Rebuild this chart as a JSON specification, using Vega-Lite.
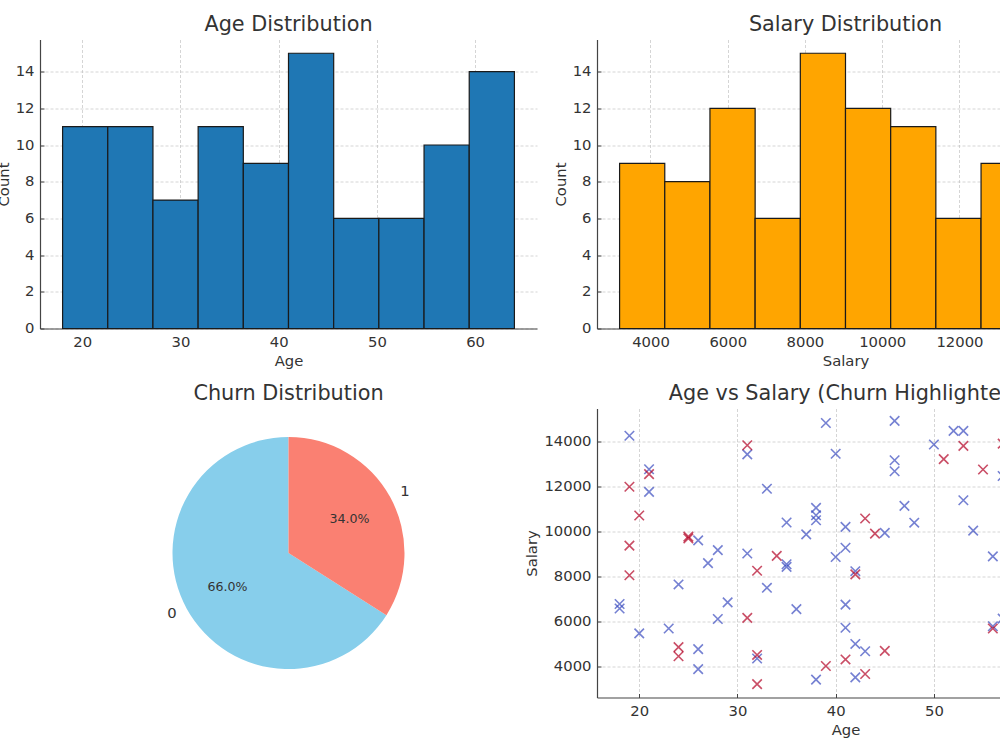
{
  "$schema": "https://vega.github.io/schema/vega-lite/v6.json",
  "padding": {"left": -4, "top": 13.5, "right": 0, "bottom": 0},
  "background": "white",
  "config": {
    "font": "DejaVu Sans",
    "view": {"stroke": null},
    "title": {"fontSize": 20.8, "font": "DejaVu Sans", "fontWeight": "normal", "color": "#333333", "anchor": "middle", "frame": "group", "offset": 3.5, "baseline": "alphabetic"},
    "axis": {
      "domainColor": "#444444", "domainWidth": 1.2,
      "tickColor": "#444444", "tickSize": -4, "tickWidth": 1,
      "labelFont": "DejaVu Sans", "labelFontSize": 14.8, "labelColor": "#333333", "labelPadding": 10,
      "titleFont": "DejaVu Sans", "titleFontSize": 14.8, "titleFontWeight": "normal", "titleColor": "#333333", "titlePadding": 4,
      "gridColor": "#bdbdbd", "gridDash": [3, 2], "gridWidth": 0.8, "gridOpacity": 0.8,
      "zindex": 1
    }
  },
  "datasets": {
    "age_hist": [
      {"bin_start": 18, "bin_end": 22.6, "count": 11},
      {"bin_start": 22.6, "bin_end": 27.2, "count": 11},
      {"bin_start": 27.2, "bin_end": 31.8, "count": 7},
      {"bin_start": 31.8, "bin_end": 36.4, "count": 11},
      {"bin_start": 36.4, "bin_end": 41, "count": 9},
      {"bin_start": 41, "bin_end": 45.6, "count": 15},
      {"bin_start": 45.6, "bin_end": 50.2, "count": 6},
      {"bin_start": 50.2, "bin_end": 54.8, "count": 6},
      {"bin_start": 54.8, "bin_end": 59.4, "count": 10},
      {"bin_start": 59.4, "bin_end": 64, "count": 14}
    ],
    "salary_hist": [
      {"bin_start": 3200, "bin_end": 4370, "count": 9},
      {"bin_start": 4370, "bin_end": 5540, "count": 8},
      {"bin_start": 5540, "bin_end": 6710, "count": 12},
      {"bin_start": 6710, "bin_end": 7880, "count": 6},
      {"bin_start": 7880, "bin_end": 9050, "count": 15},
      {"bin_start": 9050, "bin_end": 10220, "count": 12},
      {"bin_start": 10220, "bin_end": 11390, "count": 11},
      {"bin_start": 11390, "bin_end": 12560, "count": 6},
      {"bin_start": 12560, "bin_end": 13730, "count": 9},
      {"bin_start": 13730, "bin_end": 14900, "count": 12}
    ],
    "churn": [
      {"churn": "0", "share": 0.66},
      {"churn": "1", "share": 0.34}
    ],
    "people": [
      {"age": 19, "salary": 14270, "churn": "0"},
      {"age": 21, "salary": 12780, "churn": "0"},
      {"age": 21, "salary": 11770, "churn": "0"},
      {"age": 18, "salary": 6780, "churn": "0"},
      {"age": 18, "salary": 6580, "churn": "0"},
      {"age": 20, "salary": 5470, "churn": "0"},
      {"age": 23, "salary": 5690, "churn": "0"},
      {"age": 24, "salary": 7650, "churn": "0"},
      {"age": 26, "salary": 9610, "churn": "0"},
      {"age": 26, "salary": 4770, "churn": "0"},
      {"age": 26, "salary": 3880, "churn": "0"},
      {"age": 27, "salary": 8600, "churn": "0"},
      {"age": 28, "salary": 9180, "churn": "0"},
      {"age": 28, "salary": 6110, "churn": "0"},
      {"age": 29, "salary": 6850, "churn": "0"},
      {"age": 31, "salary": 13440, "churn": "0"},
      {"age": 31, "salary": 9030, "churn": "0"},
      {"age": 32, "salary": 4350, "churn": "0"},
      {"age": 33, "salary": 11910, "churn": "0"},
      {"age": 33, "salary": 7500, "churn": "0"},
      {"age": 35, "salary": 10410, "churn": "0"},
      {"age": 35, "salary": 8550, "churn": "0"},
      {"age": 35, "salary": 8430, "churn": "0"},
      {"age": 36, "salary": 6550, "churn": "0"},
      {"age": 37, "salary": 9880, "churn": "0"},
      {"age": 38, "salary": 11060, "churn": "0"},
      {"age": 38, "salary": 10730, "churn": "0"},
      {"age": 38, "salary": 10510, "churn": "0"},
      {"age": 38, "salary": 3410, "churn": "0"},
      {"age": 39, "salary": 14840, "churn": "0"},
      {"age": 40, "salary": 13470, "churn": "0"},
      {"age": 40, "salary": 8870, "churn": "0"},
      {"age": 41, "salary": 10215, "churn": "0"},
      {"age": 41, "salary": 9285, "churn": "0"},
      {"age": 41, "salary": 6750, "churn": "0"},
      {"age": 41, "salary": 5720, "churn": "0"},
      {"age": 42, "salary": 8240, "churn": "0"},
      {"age": 42, "salary": 5000, "churn": "0"},
      {"age": 42, "salary": 3510, "churn": "0"},
      {"age": 43, "salary": 4675, "churn": "0"},
      {"age": 45, "salary": 9945, "churn": "0"},
      {"age": 46, "salary": 14935, "churn": "0"},
      {"age": 46, "salary": 13180, "churn": "0"},
      {"age": 46, "salary": 12690, "churn": "0"},
      {"age": 47, "salary": 11150, "churn": "0"},
      {"age": 48, "salary": 10400, "churn": "0"},
      {"age": 50, "salary": 13880, "churn": "0"},
      {"age": 52, "salary": 14490, "churn": "0"},
      {"age": 53, "salary": 14490, "churn": "0"},
      {"age": 53, "salary": 11400, "churn": "0"},
      {"age": 54, "salary": 10045, "churn": "0"},
      {"age": 56, "salary": 8900, "churn": "0"},
      {"age": 56, "salary": 5790, "churn": "0"},
      {"age": 57, "salary": 12480, "churn": "0"},
      {"age": 57, "salary": 6130, "churn": "0"},
      {"age": 19, "salary": 12000, "churn": "1"},
      {"age": 19, "salary": 9380, "churn": "1"},
      {"age": 19, "salary": 8060, "churn": "1"},
      {"age": 20, "salary": 10720, "churn": "1"},
      {"age": 21, "salary": 12560, "churn": "1"},
      {"age": 24, "salary": 4860, "churn": "1"},
      {"age": 24, "salary": 4450, "churn": "1"},
      {"age": 25, "salary": 9780, "churn": "1"},
      {"age": 25, "salary": 9700, "churn": "1"},
      {"age": 31, "salary": 13850, "churn": "1"},
      {"age": 31, "salary": 6160, "churn": "1"},
      {"age": 32, "salary": 8260, "churn": "1"},
      {"age": 32, "salary": 4510, "churn": "1"},
      {"age": 32, "salary": 3210, "churn": "1"},
      {"age": 34, "salary": 8920, "churn": "1"},
      {"age": 39, "salary": 4020, "churn": "1"},
      {"age": 41, "salary": 4310, "churn": "1"},
      {"age": 42, "salary": 8100, "churn": "1"},
      {"age": 43, "salary": 10585, "churn": "1"},
      {"age": 43, "salary": 3660, "churn": "1"},
      {"age": 44, "salary": 9915, "churn": "1"},
      {"age": 45, "salary": 4690, "churn": "1"},
      {"age": 51, "salary": 13230, "churn": "1"},
      {"age": 53, "salary": 13820, "churn": "1"},
      {"age": 55, "salary": 12770, "churn": "1"},
      {"age": 56, "salary": 5690, "churn": "1"},
      {"age": 57, "salary": 13920, "churn": "1"}
    ]
  },
  "columns": 2,
  "bounds": "flush",
  "spacing": {"row": 80, "column": 60},
  "resolve": {"scale": {"color": "independent", "x": "independent", "y": "independent", "theta": "independent"}},
  "concat": [
    {
      "title": "Age Distribution",
      "width": 497, "height": 289,
      "data": {"name": "age_hist"},
      "mark": {"type": "bar", "fill": "#1f77b4", "stroke": "#1a1a1a", "strokeWidth": 1.2},
      "encoding": {
        "x": {"field": "bin_start", "type": "quantitative", "scale": {"domain": [15.7, 66.3], "nice": false, "zero": false}, "axis": {"title": "Age", "values": [20, 30, 40, 50, 60]}},
        "x2": {"field": "bin_end"},
        "y": {"field": "count", "type": "quantitative", "scale": {"domain": [0, 15.75], "nice": false}, "axis": {"title": "Count", "values": [0, 2, 4, 6, 8, 10, 12, 14]}},
        "y2": {"datum": 0}
      }
    },
    {
      "title": "Salary Distribution",
      "width": 497, "height": 289,
      "data": {"name": "salary_hist"},
      "mark": {"type": "bar", "fill": "#ffa500", "stroke": "#1a1a1a", "strokeWidth": 1.2},
      "encoding": {
        "x": {"field": "bin_start", "type": "quantitative", "scale": {"domain": [2615, 15485], "nice": false, "zero": false}, "axis": {"title": "Salary", "values": [4000, 6000, 8000, 10000, 12000, 14000], "format": "d"}},
        "x2": {"field": "bin_end"},
        "y": {"field": "count", "type": "quantitative", "scale": {"domain": [0, 15.75], "nice": false}, "axis": {"title": "Count", "values": [0, 2, 4, 6, 8, 10, 12, 14]}},
        "y2": {"datum": 0}
      }
    },
    {
      "title": "Churn Distribution",
      "width": 497, "height": 289,
      "data": {"name": "churn"},
      "encoding": {
        "theta": {"field": "share", "type": "quantitative", "stack": true},
        "order": {"field": "churn", "type": "ordinal", "sort": "descending"}
      },
      "layer": [
        {
          "mark": {"type": "arc", "outerRadius": 116},
          "encoding": {
            "color": {"field": "churn", "type": "nominal", "scale": {"domain": ["0", "1"], "range": ["#87ceeb", "#fa8072"]}, "legend": null}
          }
        },
        {
          "mark": {"type": "text", "radius": 127.6, "align": "left", "baseline": "middle", "fontSize": 14.8, "color": "#333333"},
          "encoding": {
            "text": {"condition": {"test": "datum.churn == '1'", "field": "churn", "type": "nominal"}, "value": ""}
          }
        },
        {
          "mark": {"type": "text", "radius": 127.6, "align": "right", "baseline": "middle", "fontSize": 14.8, "color": "#333333"},
          "encoding": {
            "text": {"condition": {"test": "datum.churn == '0'", "field": "churn", "type": "nominal"}, "value": ""}
          }
        },
        {
          "mark": {"type": "text", "radius": 69.6, "align": "center", "baseline": "middle", "fontSize": 12.6, "color": "#333333"},
          "encoding": {
            "text": {"field": "share", "type": "quantitative", "format": ".1%"}
          }
        }
      ]
    },
    {
      "title": "Age vs Salary (Churn Highlighted)",
      "width": 497, "height": 289,
      "data": {"name": "people"},
      "mark": {"type": "point", "shape": "M-1,-1L1,1M-1,1L1,-1", "filled": false, "strokeWidth": 1.6, "size": 90, "opacity": 0.7},
      "encoding": {
        "x": {"field": "age", "type": "quantitative", "scale": {"domain": [15.7, 66.3], "nice": false, "zero": false}, "axis": {"title": "Age", "values": [20, 30, 40, 50, 60]}},
        "y": {"field": "salary", "type": "quantitative", "scale": {"domain": [2615, 15485], "nice": false, "zero": false}, "axis": {"title": "Salary", "values": [4000, 6000, 8000, 10000, 12000, 14000], "format": "d"}},
        "color": {"field": "churn", "type": "nominal", "scale": {"domain": ["0", "1"], "range": ["#3b4cc0", "#b40426"]}, "legend": null}
      }
    }
  ]
}
